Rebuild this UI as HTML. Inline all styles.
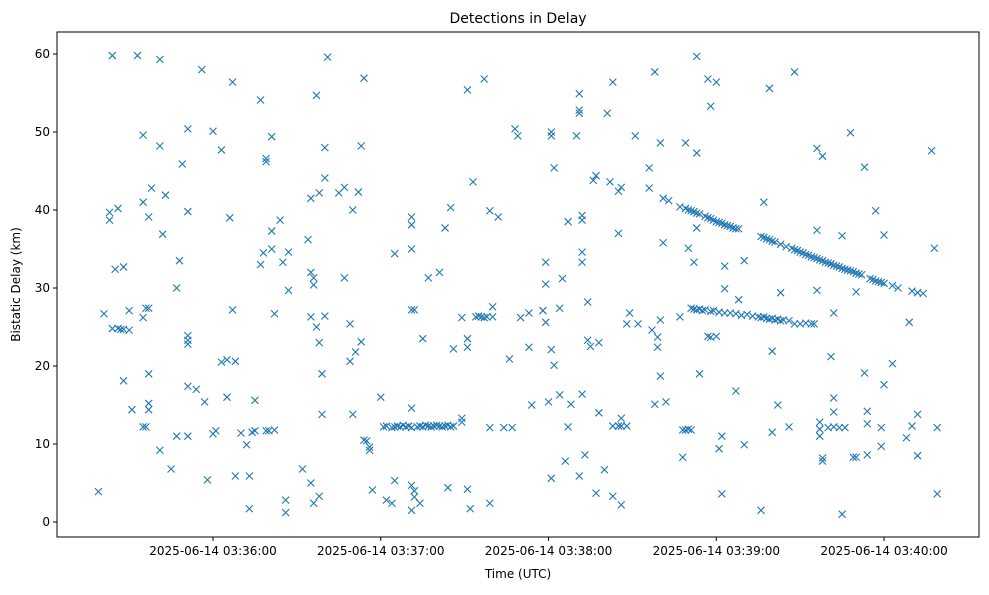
<!DOCTYPE html>
<html><head><meta charset="utf-8"><style>
body{margin:0;background:#fff;font-family:"Liberation Sans","DejaVu Sans",sans-serif}
</style></head><body>
<svg id="chart" width="989" height="590" xmlns="http://www.w3.org/2000/svg" font-family="DejaVu Sans, Liberation Sans, sans-serif">
<rect width="989" height="590" fill="#fff"/>
<g id="marks"></g>
<g id="axes"></g>
</svg>
<script>
// seconds after 03:35:00 UTC
const xTickSeconds=[60,120,180,240,300];
const xTickLabels=["2025-06-14 03:36:00","2025-06-14 03:37:00","2025-06-14 03:38:00","2025-06-14 03:39:00","2025-06-14 03:40:00"];
const yTicks=[0,10,20,30,40,50,60];
const scatterT=[19,21,24,23,23,24,26,27,28,30,25,26,28,28,31,30,33,35,35,35,36,35,36,37,37,38,37,37,37,41,41,41,42,43,45,47,47,48,49,51,51,51,51,51,51,51,
54,56,57,58,60,60,61,63,63,65,65,66,67,67,68,68,70,72,73,73,74,75,75,77,77,78,79,79,79,81,81,81,82,80,82,84,85,87,87,86,86,92,94,95,96,96,95,95,95,96,97,97,98,98,98,99,99,100,100,100,101,105,107,107,109,110,110,109,111,113,112,113,114,114,115,116,116,117,120,122,124,125,125,
131,131,131,131,131,132,131,131,132,132,134,135,137,141,143,144,145,146,149,149,151,151,151,151,152,153,154,155,156,157,158,149,157,159,159,159,160,160,162,164,
167,166,168,169,170,173,173,174,178,179,178,179,179,180,181,181,181,182,182,181,184,184,185,186,187,187,188,190,191,191,191,191,192,192,192,192,192,193,194,194,
195,196,197,197,198,198,200,201,202,203,
203,203,205,206,208,205,205,206,206,206,208,209,
211,212,216,216,217,218,218,219,220,219,220,220,221,221,222,223,227,
228,229,230,231,228,229,230,232,233,233,233,234,
237,238,240,237,238,240,241,242,242,243,243,247,248,250,250,
256,257,259,260,260,262,263,266,268,268,270,272,274,275,276,276,276,
277,277,277,278,278,278,281,282,282,282,280,282,284,286,285,285,288,289,290,290,
293,293,294,294,294,297,299,299,300,300,303,308,309,310,312,312,317,318,319,319,
227,229,230,231,232,233,234,236,237,238,239,240,241,242,243,244,245,246,247,248,256,257,258,259,260,261,263,265,267,268,269,270,271,272,273,274,275,276,277,278,279,280,281,282,283,284,285,286,287,288,289,290,291,292,295,296,297,298,299,300,303,305,310,312,314,
231,232,233,234,235,236,238,239,241,243,245,247,249,251,253,255,256,257,258,259,260,261,262,263,264,266,
121,122,124,125,126,127,128,129,130,131,133,134,135,136,137,138,139,140,141,142,143,144,145,146];
const scatterKm=[3.9,26.7,59.8,39.7,38.7,24.8,24.8,24.7,24.7,24.6,32.4,40.2,32.7,18.1,14.4,27.1,59.8,49.6,41,12.2,12.2,26.2,27.4,27.4,39.1,42.8,19,15.2,14.4,59.3,48.2,9.2,36.9,41.9,6.8,30,11,33.5,45.9,17.4,23.3,23.9,22.8,39.8,50.4,11,
17,58,15.4,5.4,50.1,11.3,11.7,47.7,20.5,20.8,16,39,56.4,27.2,20.6,5.9,11.4,9.9,1.7,5.9,11.5,11.7,15.6,54.1,33,34.5,46.6,46.2,11.7,49.4,37.3,35,26.7,11.7,11.8,38.7,33.3,34.6,29.7,2.8,1.2,6.8,36.2,32,31.3,30.4,5,41.5,26.3,2.4,54.7,25,23,3.3,42.2,19,13.8,48,26.4,44.1,59.6,42.2,42.9,31.3,25.4,13.8,40,20.6,21.8,23.1,42.3,48.2,56.9,10.5,10.4,9.6,9.2,4.1,16,2.8,2.4,34.4,5.3,
14.6,39.1,38.1,35,27.2,27.2,4.7,1.5,4,3.2,2.4,23.5,31.3,32,37.7,4.4,40.3,22.2,13.3,12.8,55.4,23.5,22.4,4.2,1.7,43.6,26.3,26.4,26.3,26.2,26.3,26.2,56.8,12.1,2.4,39.9,26.3,27.6,39.1,12.1,
12.1,20.9,50.4,49.5,26.2,22.4,26.8,15,27.1,25.6,27.1,30.5,33.3,15.4,49.5,50,22.1,45.4,20.1,5.6,16.3,27.4,31.2,7.8,12.2,38.5,15.1,49.5,54.9,52.4,52.8,5.9,16.4,33.3,34.6,39.3,38.7,8.6,28.2,23.3,
22.5,43.8,3.7,44.4,23,14,6.7,52.4,43.6,3.3,
56.4,12.3,12.3,12.3,12.3,37,42.4,42.9,13.3,2.2,25.4,26.8,
49.5,25.4,42.8,45.4,24.6,15.1,57.7,23.7,25.9,22.4,48.6,18.7,41.5,35.8,15.4,41.2,26.3,
11.8,11.8,11.9,11.8,8.3,48.6,35.1,33.3,37.7,59.7,47.3,19,
23.8,23.7,23.8,56.8,53.3,56.4,9.4,11,3.6,32.8,29.9,16.8,28.5,33.5,9.9,
1.5,41,55.6,21.9,11.5,15,29.4,12.2,57.7,25.4,25.4,25.5,25.4,25.4,29.7,37.4,47.9,
12.8,11.9,11,8.2,7.8,46.9,21.2,26.8,15.9,14.1,12.1,12.2,12.1,12.1,36.7,1,49.9,8.3,8.3,29.5,
45.5,19.1,8.6,14.2,12.6,39.9,9.7,12.1,36.8,17.6,20.3,10.8,25.6,12.3,13.8,8.5,47.6,35.1,3.6,12.1,
40.4,40.2,40.0,39.9,39.8,39.6,39.5,39.2,39.0,38.9,38.7,38.5,38.4,38.3,38.1,38.0,37.9,37.7,37.6,37.6,36.6,36.5,36.3,36.2,36.0,35.9,35.6,35.3,35.1,34.9,34.8,34.6,34.5,34.3,34.2,34.0,33.9,33.8,33.6,33.5,33.3,33.2,33.1,32.9,32.8,32.7,32.5,32.4,32.3,32.2,32.1,31.9,31.8,31.7,31.2,31.1,30.9,30.8,30.7,30.6,30.3,30.0,29.6,29.4,29.3,
27.4,27.3,27.2,27.3,27.1,27.2,27.0,27.1,26.9,26.8,26.8,26.7,26.5,26.6,26.4,26.3,26.2,26.3,26.1,26.0,26.1,25.9,26.0,25.8,25.9,25.8,
12.2,12.3,12.1,12.2,12.3,12.2,12.4,12.2,12.3,12.1,12.2,12.3,12.2,12.4,12.3,12.2,12.3,12.4,12.3,12.2,12.3,12.4,12.2,12.3];

const NS="http://www.w3.org/2000/svg";
const L=57,R=979,T=32,B=537;
function xs(t){return 45.25+t*2.796;}
function ys(d){return 522-d*7.8;}
function mk(tag,attrs,parent){const e=document.createElementNS(NS,tag);for(const k in attrs)e.setAttribute(k,attrs[k]);parent.appendChild(e);return e;}
const marks=document.getElementById('marks');
const n=Math.min(scatterT.length,scatterKm.length);
for(let i=0;i<n;i++){
  const cx=xs(scatterT[i]),cy=ys(scatterKm[i]),s=3.5;
  const p=mk('path',{d:`M${cx-s},${cy-s}L${cx+s},${cy+s}M${cx-s},${cy+s}L${cx+s},${cy-s}`,stroke:'#1f77b4','stroke-width':1.1,fill:'none'},marks);
  
  
}
const ax=document.getElementById('axes');
const fr=mk('rect',{x:L,y:T,width:R-L,height:B-T,fill:'none',stroke:'#000','stroke-width':1},ax);


xTickSeconds.forEach((t,i)=>{
  const x=xs(t);
  mk('line',{x1:x,x2:x,y1:B,y2:B+4,stroke:'#000'},ax);
  const tx=mk('text',{x:x,y:B+18,'font-size':12,'text-anchor':'middle'},ax);
  tx.textContent=xTickLabels[i];
  
  
});
yTicks.forEach(v=>{
  const y=ys(v);
  mk('line',{x1:L-4,x2:L,y1:y,y2:y,stroke:'#000'},ax);
  const tx=mk('text',{x:L-7,y:y+4,'font-size':12,'text-anchor':'end'},ax);
  tx.textContent=v;
  
  
});
const ti=mk('text',{x:(L+R)/2,y:23,'font-size':14,'text-anchor':'middle'},ax);
ti.textContent='Detections in Delay';


const xl=mk('text',{x:(L+R)/2,y:578,'font-size':12,'text-anchor':'middle'},ax);
xl.textContent='Time (UTC)';


const yl=mk('text',{x:20,y:(T+B)/2,'font-size':12,'text-anchor':'middle',transform:`rotate(-90 20 ${(T+B)/2})`},ax);
yl.textContent='Bistatic Delay (km)';


</script>
</body></html>
